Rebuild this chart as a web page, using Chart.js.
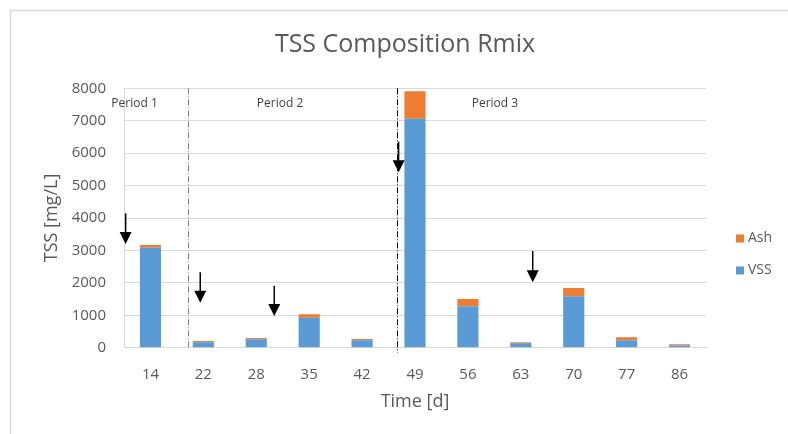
<!DOCTYPE html>
<html>
<head>
<meta charset="utf-8">
<title>TSS Composition Rmix</title>
<script src="https://cdn.jsdelivr.net/npm/chart.js@4/dist/chart.umd.min.js"></script>
<style>
  html, body { margin: 0; padding: 0; background: #ffffff; }
  #wrap { width: 788px; height: 434px; }
</style>
</head>
<body>
<div id="wrap"><canvas id="chart" width="788" height="434"></canvas></div>
<script>
// Sampling days (x categories)
const days = ['14', '22', '28', '35', '42', '49', '56', '63', '70', '77', '86'];
// Volatile suspended solids, mg/L
const vss = [3080, 165, 260, 920, 230, 7060, 1280, 135, 1590, 230, 65];
// Ash (inorganic fraction), mg/L
const ash = [90, 45, 40, 110, 40, 850, 220, 35, 250, 90, 45];
// Y axis range and step
const yTicks = [0, 1000, 2000, 3000, 4000, 5000, 6000, 7000, 8000];

// Period labels: [text, category position, TSS level]
const periodLabels = [
  ['Period 1', -0.30, 7515],
  ['Period 2', 2.45, 7515],
  ['Period 3', 6.51, 7515]
];
// Period boundaries on the category axis
const periodBounds = [0.715, 4.665];
// Feeding events: [category position, arrow start TSS, arrow tip TSS]
const feedArrows = [
  [-0.469, 4144, 3198],
  [0.941, 2325, 1388],
  [2.34, 1912, 977],
  [4.69, 6352, 5409],
  [7.225, 2982, 2017]
];

const FONT = "'Open Sans', 'Noto Sans', sans-serif";
const TEXT = '#595959';
const GRID = '#d9d9d9';

// Frame, period markers, arrows and the legend
const overlay = {
  id: 'overlay',
  beforeDraw(chart) {
    const ctx = chart.ctx;
    ctx.save();
    ctx.fillStyle = '#ffffff';
    ctx.fillRect(0, 0, chart.width, chart.height);
    ctx.strokeStyle = GRID;
    ctx.lineWidth = 1.5;
    ctx.strokeRect(10.5, 10.5, chart.width + 20, chart.height + 20);
    ctx.restore();
  },
  afterDatasetsDraw(chart) {
    const ctx = chart.ctx;
    const xs = chart.scales.x;
    const ys = chart.scales.y;
    const yMax = yTicks[yTicks.length - 1];
    ctx.save();

    // period boundaries (dash-dot)
    ctx.lineWidth = 1;
    ctx.setLineDash([6, 2, 1, 2]);
    periodBounds.forEach((pos, i) => {
      const px = Math.round(xs.getPixelForValue(pos)) + 0.5;
      ctx.strokeStyle = i === 0 ? '#7f7f7f' : '#000000';
      ctx.beginPath();
      ctx.moveTo(px, ys.getPixelForValue(yMax));
      ctx.lineTo(px, ys.getPixelForValue(0) + (i === 0 ? 0 : 5));
      ctx.stroke();
    });
    ctx.setLineDash([]);

    // period labels
    ctx.fillStyle = '#404040';
    ctx.font = '12px ' + FONT;
    ctx.textAlign = 'center';
    ctx.textBaseline = 'middle';
    periodLabels.forEach(([txt, pos, lvl]) => {
      ctx.fillText(txt, xs.getPixelForValue(pos), ys.getPixelForValue(lvl));
    });

    // feeding arrows
    ctx.strokeStyle = '#000000';
    ctx.fillStyle = '#000000';
    ctx.lineWidth = 1.5;
    feedArrows.forEach(([pos, from, to]) => {
      const px = xs.getPixelForValue(pos);
      const y0 = ys.getPixelForValue(from);
      const y1 = ys.getPixelForValue(to);
      const head = 12;
      ctx.beginPath();
      ctx.moveTo(px, y0);
      ctx.lineTo(px, y1 - head + 1);
      ctx.stroke();
      ctx.beginPath();
      ctx.moveTo(px - 6, y1 - head);
      ctx.lineTo(px + 6, y1 - head);
      ctx.lineTo(px, y1);
      ctx.closePath();
      ctx.fill();
    });

    // legend (top series first)
    const items = chart.data.datasets.slice().reverse();
    const lx = chart.chartArea.right + 30;
    const ly0 = 238.5;
    ctx.font = '14px ' + FONT;
    ctx.textAlign = 'left';
    ctx.textBaseline = 'middle';
    items.forEach((ds, i) => {
      const cy = ly0 + i * 32;
      ctx.fillStyle = ds.backgroundColor;
      ctx.fillRect(lx, cy - 4, 8, 8);
      ctx.fillStyle = TEXT;
      ctx.fillText(ds.label, lx + 12, cy);
    });
    ctx.restore();
  }
};

new Chart(document.getElementById('chart'), {
  type: 'bar',
  data: {
    labels: days,
    datasets: [
      { label: 'VSS', data: vss, backgroundColor: '#5b9bd5', borderWidth: 0 },
      { label: 'Ash', data: ash, backgroundColor: '#ed7d31', borderWidth: 0 }
    ]
  },
  options: {
    responsive: false,
    animation: false,
    devicePixelRatio: 1,
    layout: { padding: { left: 22, right: 0, top: 0, bottom: 0 } },
    datasets: { bar: { barPercentage: 0.4, categoryPercentage: 1.0 } },
    plugins: {
      legend: { display: false },
      tooltip: { enabled: false },
      title: {
        display: true,
        text: 'TSS Composition Rmix',
        color: TEXT,
        font: { family: FONT, size: 25, weight: 'normal', lineHeight: 1.2 },
        padding: { top: 30, bottom: 28.3 }
      }
    },
    scales: {
      x: {
        stacked: true,
        grid: { display: false, drawTicks: false },
        border: { display: true, color: GRID, width: 1 },
        ticks: { color: TEXT, font: { family: FONT, size: 15 }, padding: 18, maxRotation: 0 },
        title: {
          display: true,
          text: 'Time [d]',
          color: TEXT,
          font: { family: FONT, size: 18 },
          padding: { top: 0, bottom: 21 }
        },
        afterFit(s) { s.height = 86.3; }
      },
      y: {
        stacked: true,
        min: yTicks[0],
        max: yTicks[yTicks.length - 1],
        afterBuildTicks(s) { s.ticks = yTicks.map(v => ({ value: v })); },
        grid: { color: GRID, lineWidth: 1, drawTicks: false },
        border: { display: true, color: GRID, width: 1 },
        ticks: {
          color: TEXT,
          font: { family: FONT, size: 15 },
          padding: 18,
          callback: v => String(v)
        },
        title: {
          display: true,
          text: 'TSS [mg/L]',
          color: TEXT,
          font: { family: FONT, size: 18 },
          padding: { top: 19, bottom: 0 }
        },
        afterFit(s) { s.width = 102; }
      },
      yR: {
        type: 'linear',
        position: 'right',
        display: true,
        grid: { display: false },
        border: { display: false },
        ticks: { display: false },
        afterFit(s) { s.width = 82; }
      }
    }
  },
  plugins: [overlay]
});
</script>
</body>
</html>
